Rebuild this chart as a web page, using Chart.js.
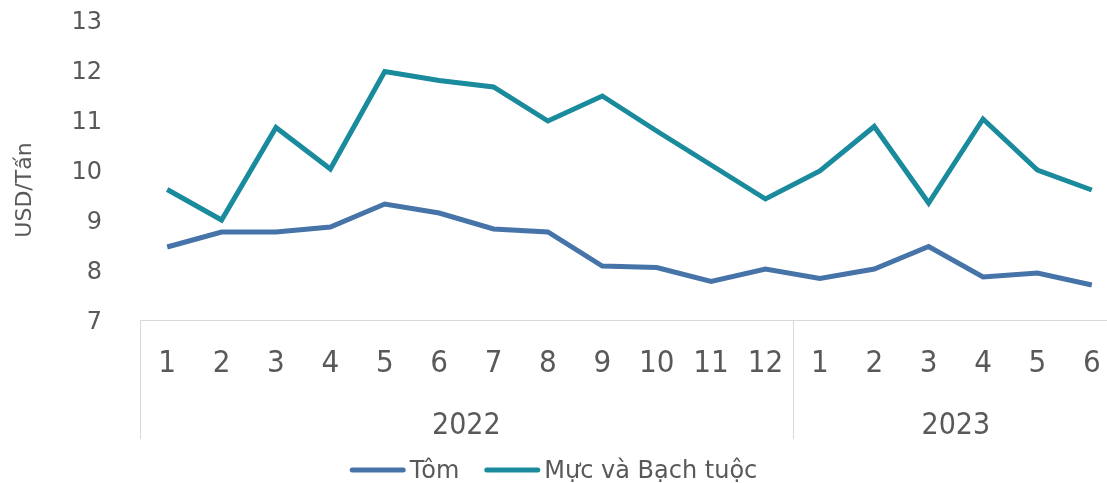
<!DOCTYPE html>
<html>
<head>
<meta charset="utf-8">
<script src="https://cdn.jsdelivr.net/npm/chart.js@4.4.0/dist/chart.umd.min.js"></script>
<style>
  html, body { margin: 0; padding: 0; background: #fff; overflow: hidden; }
  #wrap { width: 1119px; height: 483px; position: relative; }
</style>
</head>
<body>
<div id="wrap"><canvas id="priceChart"></canvas></div>
<script>
/* ================= DATA ================= */
var months = ["1","2","3","4","5","6","7","8","9","10","11","12","1","2","3","4","5","6"];
var years = ["2022","2022","2022","2022","2022","2022","2022","2022","2022","2022","2022","2022",
             "2023","2023","2023","2023","2023","2023"];
var tom = [8.46, 8.76, 8.76, 8.86, 9.32, 9.14, 8.82, 8.76, 8.08, 8.05, 7.77, 8.02,
           7.83, 8.02, 8.47, 7.86, 7.94, 7.70];
var mucBachTuoc = [9.61, 9.0, 10.85, 10.02, 11.97, 11.79, 11.66, 10.98, 11.48, 10.78, 10.1, 9.42,
                   9.98, 10.87, 9.34, 11.02, 10.0, 9.6];
var yTitle = "USD/Tấn";

var textColor = "#595959";
var fontFamily = "'DejaVu Sans', Verdana, sans-serif";
var narrowFont = "'Liberation Sans Narrow', 'DejaVu Sans Condensed', sans-serif";
var condFont = "'DejaVu Sans Condensed', 'DejaVu Sans', sans-serif";

/* ================= YEAR GROUP, TITLE, LEGEND PLUGIN ================= */
var extras = {
    id: "extras",
    afterDraw: function (chart) {
        var ctx = chart.ctx;
        var xs = chart.scales.x;
        var area = chart.chartArea;
        var half = (xs.getPixelForValue(1) - xs.getPixelForValue(0)) / 2;
        var top = area.bottom;
        var bottom = top + 119;
        ctx.save();
        ctx.strokeStyle = "#d9d9d9";
        ctx.lineWidth = 1;
        var start = 0;
        for (var i = 0; i <= years.length; i++) {
            if (i === years.length || years[i] !== years[start]) {
                var left = xs.getPixelForValue(start) - half;
                var right = xs.getPixelForValue(i - 1) + half;
                ctx.fillStyle = textColor;
                ctx.font = "30px " + condFont;
                ctx.textAlign = "center";
                ctx.textBaseline = "alphabetic";
                ctx.fillText(years[start], (left + right) / 2, top + 114);
                ctx.beginPath();
                ctx.moveTo(Math.round(left) + 0.5, top);
                ctx.lineTo(Math.round(left) + 0.5, bottom);
                ctx.stroke();
                start = i;
            }
        }

        // legend
        var lineW = 56, gapText = 4, gapItem = 25, ly = 470;
        ctx.font = "24px " + fontFamily;
        var sets = chart.data.datasets;
        var total = 0;
        sets.forEach(function (ds, k) {
            total += lineW + gapText + ctx.measureText(ds.label).width;
            if (k < sets.length - 1) total += gapItem;
        });
        var x = 553.5 - total / 2;
        ctx.textAlign = "left";
        ctx.textBaseline = "middle";
        ctx.lineCap = "round";
        sets.forEach(function (ds) {
            ctx.strokeStyle = ds.borderColor;
            ctx.lineWidth = 5;
            ctx.beginPath();
            ctx.moveTo(x + 2.5, ly);
            ctx.lineTo(x + lineW - 2.5, ly);
            ctx.stroke();
            x += lineW + gapText;
            ctx.fillStyle = textColor;
            ctx.fillText(ds.label, x, ly + 2);
            x += ctx.measureText(ds.label).width + gapItem;
        });

        // y axis title
        ctx.translate(25, 190);
        ctx.rotate(-Math.PI / 2);
        ctx.fillStyle = textColor;
        ctx.font = "22px " + fontFamily;
        ctx.textAlign = "center";
        ctx.fillText(yTitle, 0, 0);
        ctx.restore();
    }
};

/* ================= CHART ================= */
document.addEventListener("DOMContentLoaded", function () {
    var ctx = document.getElementById("priceChart").getContext("2d");
    new Chart(ctx, {
        type: "line",
        data: {
            labels: months,
            datasets: [{
                label: "Tôm",
                data: tom,
                borderColor: "#4674a9",
                backgroundColor: "#4674a9",
                borderWidth: 5,
                pointRadius: 0,
                tension: 0
            }, {
                label: "Mực và Bạch tuộc",
                data: mucBachTuoc,
                borderColor: "#1a8b9d",
                backgroundColor: "#1a8b9d",
                borderWidth: 5,
                pointRadius: 0,
                tension: 0
            }]
        },
        options: {
            responsive: true,
            maintainAspectRatio: false,
            animation: false,
            layout: { padding: { top: 20, right: 0, left: 0, bottom: 0 } },
            plugins: {
                tooltip: { enabled: false },
                legend: { display: false }
            },
            scales: {
                x: {
                    offset: true,
                    grid: { display: false, drawTicks: false },
                    border: { display: true, color: "#d9d9d9", width: 1 },
                    ticks: {
                        color: textColor,
                        font: { family: narrowFont, size: 31 },
                        padding: 25,
                        maxRotation: 0,
                        autoSkip: false
                    },
                    afterFit: function (scale) {
                        scale.height = 163;
                        scale.paddingLeft = 0;
                        scale.paddingRight = 0;
                    }
                },
                y: {
                    min: 7,
                    max: 13,
                    grid: { display: false, drawTicks: false },
                    border: { display: false },
                    ticks: {
                        stepSize: 1,
                        color: textColor,
                        font: { family: fontFamily, size: 24 },
                        padding: 38,
                        labelOffset: 3
                    },
                    afterFit: function (scale) {
                        scale.width = 140;
                        scale.paddingTop = 0;
                        scale.paddingBottom = 0;
                    }
                }
            }
        },
        plugins: [extras]
    });
});
</script>
</body>
</html>
